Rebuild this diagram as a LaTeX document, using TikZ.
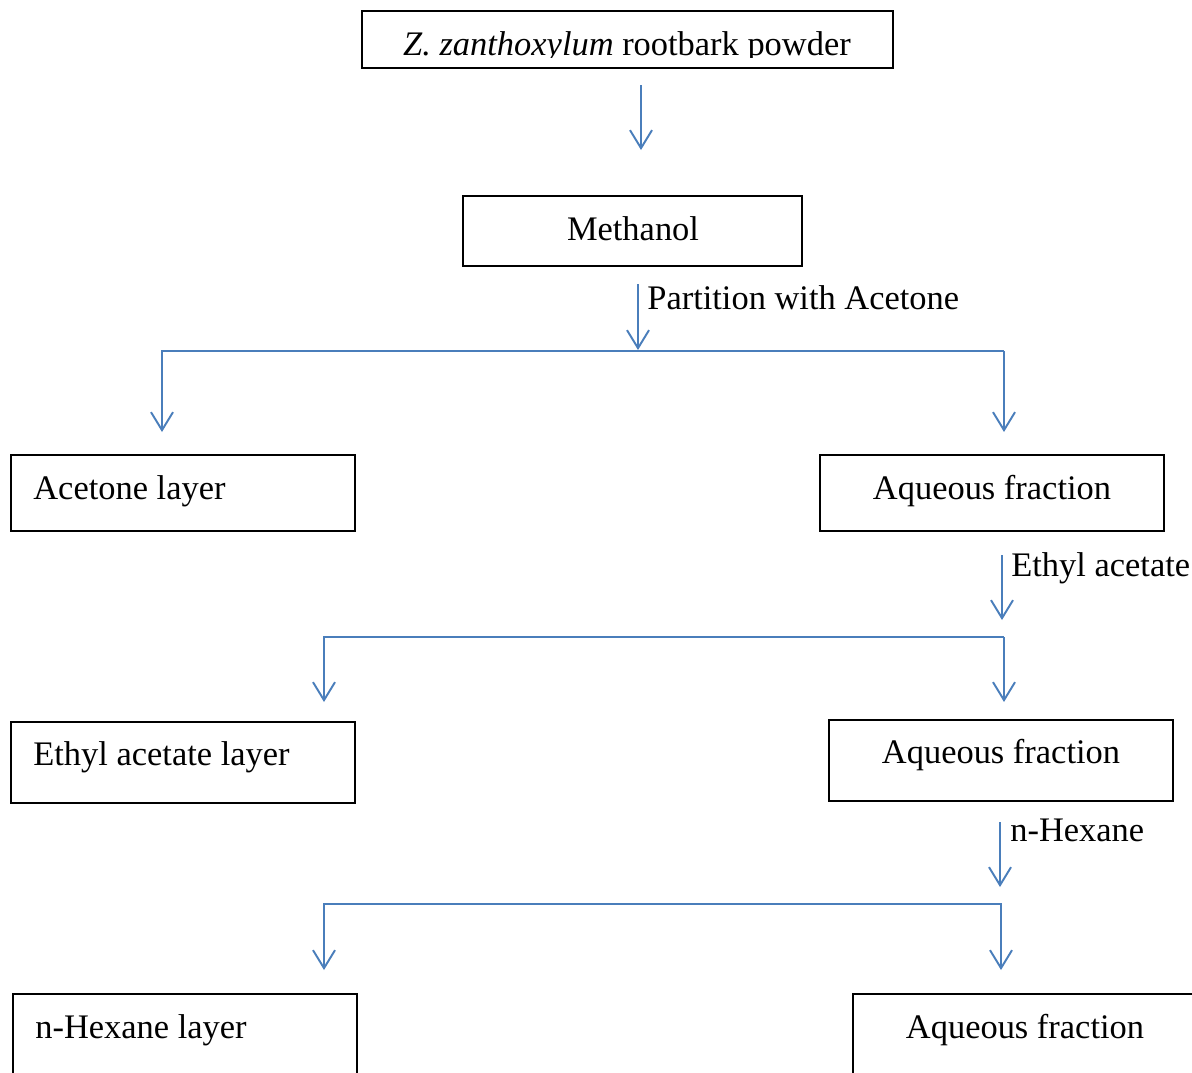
\documentclass[tikz,border=0pt]{standalone}
\usepackage{fontspec}
\setmainfont{Liberation Serif}
\usetikzlibrary{arrows.meta}
\definecolor{flowblue}{RGB}{74,126,187}

\begin{document}
\begin{tikzpicture}[x=0.02cm,y=-0.02cm,font=\fontsize{19.6}{23}\selectfont,
    box/.style={draw,line width=1.1pt,inner sep=0pt},
    lbl/.style={inner sep=0pt},
    bar/.style={flowblue,line width=1.1pt},
    flow/.style={bar,-{Straight Barb[length=0.36cm,width=0.44cm]}}]
  \clip (0,0) rectangle (1192,1072);
  % boxes
  \node[box,minimum width=10.62cm,minimum height=1.14cm] (root) at (627.5,39.5) {};
  \node[box,minimum width=6.78cm,minimum height=1.4cm] (meth) at (632.5,231) {};
  \node[box,minimum width=6.88cm,minimum height=1.52cm] (acet) at (183,493) {};
  \node[box,minimum width=6.88cm,minimum height=1.52cm] (aqa) at (992,493) {};
  \node[box,minimum width=6.88cm,minimum height=1.62cm] (etac) at (183,762.5) {};
  \node[box,minimum width=6.88cm,minimum height=1.62cm] (aqb) at (1001,760.5) {};
  \node[box,minimum width=6.88cm,minimum height=2.12cm] (hexl) at (185,1047) {};
  \node[box,minimum width=6.92cm,minimum height=2.12cm] (aqc) at (1026,1047) {};
  % texts
  \begin{scope}
    \clip (root.north west) rectangle (893,57.5);
    \node[lbl,anchor=base] (roott) at (627,55) {\textit{Z. zanthoxylum} rootbark powder};
  \end{scope}
  \node[lbl,anchor=base] (metht) at (633,240) {Methanol};
  \node[lbl,anchor=base west] (acett) at (33,499) {Acetone layer};
  \node[lbl,anchor=base] (aqat) at (992,499) {Aqueous fraction};
  \node[lbl,anchor=base west] (etact) at (33,765) {Ethyl acetate layer};
  \node[lbl,anchor=base] (aqbt) at (1001,763) {Aqueous fraction};
  \node[lbl,anchor=base west] (hexlt) at (35,1038) {n-Hexane layer};
  \node[lbl,anchor=base] (aqct) at (1025,1038) {Aqueous fraction};
  \node[lbl,anchor=base west] (solva) at (647,309) {Partition with Acetone};
  \node[lbl,anchor=base west] (solvb) at (1011,576) {Ethyl acetate};
  \node[lbl,anchor=base west] (solvc) at (1010,841) {n-Hexane};
  % connectors
  \coordinate (t1) at (641,85);   \coordinate (h1) at (641,150);
  \coordinate (t2) at (638,284);  \coordinate (h2) at (638,350);
  \coordinate (t3) at (1002,555); \coordinate (h3) at (1002,620);
  \coordinate (t4) at (1000,822); \coordinate (h4) at (1000,887);
  \coordinate (s1l) at (161,351); \coordinate (s1r) at (1004,351);
  \coordinate (s2l) at (323,637); \coordinate (s2r) at (1004,637);
  \coordinate (s3l) at (323,904); \coordinate (s3r) at (1002,904);
  \coordinate (e1l) at (162,432); \coordinate (e1r) at (1004,432);
  \coordinate (e2l) at (324,702); \coordinate (e2r) at (1004,702);
  \coordinate (e3l) at (324,970); \coordinate (e3r) at (1001,970);
  \foreach \i in {1,...,4} \draw[flow] (t\i) -- (h\i);
  \foreach \i in {1,2,3} {
    \draw[bar] (s\i l) -- (s\i r);
    \draw[flow] (s\i l -| e\i l) -- (e\i l);
    \draw[flow] (s\i r -| e\i r) -- (e\i r);
  }
\end{tikzpicture}
\end{document}
